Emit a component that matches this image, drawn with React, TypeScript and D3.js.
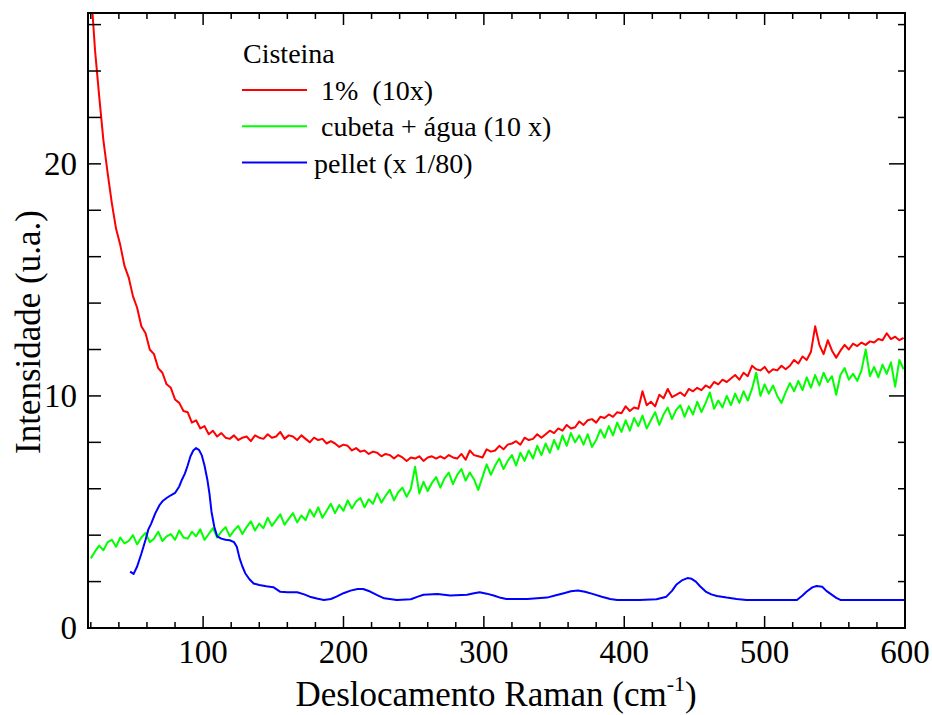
import React, { useEffect, useRef } from "react";
import * as d3 from "d3";

// Raman shift grid for the two noisy spectra (cm-1), sampled every 3
const shift = d3.range(20, 600, 3);

// 1% (10x)
const redVals = [
  27.6, 24.9, 22.9, 21.0, 19.6, 18.3, 17.2, 16.5, 15.6, 15.1,
  14.3, 13.8, 13.0, 12.7, 12.0, 11.8, 11.2, 11.0, 10.5, 10.35,
  9.85, 9.7, 9.35, 9.3, 8.85, 8.95, 8.6, 8.7, 8.35, 8.5,
  8.25, 8.4, 8.2, 8.15, 8.3, 8.1, 8.2, 8.25, 8.05, 8.3,
  8.2, 8.15, 8.35, 8.2, 8.25, 8.45, 8.15, 8.3, 8.25, 8.1,
  8.3, 8.15, 8.0, 8.2, 8.1, 8.15, 7.95, 8.05, 7.95, 7.8,
  7.9, 7.85, 7.65, 7.75, 7.6, 7.65, 7.5, 7.6, 7.55, 7.4,
  7.5, 7.45, 7.3, 7.45, 7.35, 7.2, 7.35, 7.3, 7.4, 7.2,
  7.35, 7.4, 7.3, 7.4, 7.3, 7.45, 7.35, 7.3, 7.5, 7.25,
  7.65, 7.45, 7.4, 7.35, 7.7, 7.6, 7.65, 7.85, 7.7, 7.9,
  7.95, 8.05, 7.9, 8.2, 8.1, 8.15, 8.35, 8.2, 8.35, 8.5,
  8.4, 8.6, 8.5, 8.75, 8.6, 8.65, 8.9, 8.75, 8.95, 9.0,
  8.85, 9.1, 9.05, 9.2, 9.1, 9.3, 9.25, 9.55, 9.35, 9.5,
  9.45, 10.2, 9.6, 9.75, 9.55, 10.05, 9.9, 10.3, 9.95, 10.05,
  10.15, 10.0, 10.3, 10.2, 10.35, 10.25, 10.45, 10.35, 10.6, 10.5,
  10.7, 10.6, 10.75, 10.9, 10.7, 11.0, 10.85, 11.3, 11.15, 11.1,
  11.25, 11.0, 11.15, 11.1, 11.3, 11.15, 11.3, 11.55, 11.4, 11.7,
  11.55, 11.9, 13.0, 12.2, 11.8, 12.4, 11.95, 11.65, 11.95, 12.2,
  12.0, 12.25, 12.15, 12.3, 12.2, 12.35, 12.3, 12.45, 12.4, 12.7,
  12.45, 12.55, 12.4, 12.5,
];

// cubeta + água (10 x)
const greenVals = [
  3.0, 3.3, 3.55, 3.35, 3.7, 3.8, 3.5, 3.9, 3.65, 3.75,
  4.0, 3.6, 3.9, 4.1, 3.7, 3.85, 4.15, 3.75, 3.95, 4.05,
  3.8, 4.2, 3.9, 3.85, 4.15, 3.95, 4.25, 3.8, 4.05, 4.3,
  3.9, 4.15, 4.35, 3.95, 4.2, 4.4, 4.05, 4.35, 4.6, 4.2,
  4.5, 4.3, 4.75, 4.4, 4.65, 4.9, 4.45, 4.7, 4.95, 4.55,
  4.85, 4.65, 5.1, 4.8, 5.2, 4.75, 5.05, 5.35, 4.95, 5.3,
  5.05, 5.5, 5.15, 5.45, 5.6, 5.2, 5.55, 5.35, 5.8, 5.4,
  5.7, 5.95, 5.5, 5.85, 6.05, 5.65, 6.0, 6.95, 5.8, 6.3,
  5.9, 6.25, 6.5, 6.05, 6.45, 6.7, 6.2, 6.6, 6.85, 6.35,
  6.7, 6.4, 5.95, 6.5, 7.05, 6.6, 7.0, 7.3, 6.85, 7.2,
  7.45, 7.0, 7.55, 7.2, 7.65, 7.3, 7.85, 7.45, 7.95, 7.55,
  8.1, 7.7, 8.3, 7.85, 8.4, 8.0, 8.3, 7.9, 8.35, 7.8,
  8.1, 8.55, 8.2, 8.7, 8.3, 8.85, 8.45, 8.95, 8.5, 9.05,
  8.7, 9.15, 8.6, 8.95, 9.3, 8.75, 9.2, 9.5, 9.0, 9.4,
  9.6, 9.1, 9.55, 9.2, 9.75, 9.3, 9.7, 10.15, 9.45, 9.8,
  9.5, 10.0, 9.6, 10.1, 9.7, 10.2, 9.8, 10.3, 11.0, 10.0,
  10.5, 10.1, 10.45, 10.0, 9.7, 10.15, 10.55, 10.2, 10.65, 10.25,
  10.8, 10.35, 10.9, 10.45, 11.0, 10.6, 10.85, 10.05, 10.9, 11.2,
  10.7, 10.95, 10.65, 11.1, 12.0, 10.85, 11.25, 10.8, 11.35, 10.95,
  11.45, 10.4, 11.55, 11.15,
];

// pellet (x 1/80)
const pelletShift = [
  48, 50.5, 53, 56, 59, 61, 63, 66, 69, 71, 74, 77, 80, 83, 85, 87, 89, 91, 93, 95,
  97, 99, 101, 103, 104.5, 106, 108, 110, 113, 116, 119, 122, 124, 126, 128, 130, 133, 136, 140, 145,
  150, 155, 160, 167, 172, 176, 181, 186, 191, 195, 200, 205, 210, 214, 219, 224, 229, 238, 248, 253,
  257, 267, 276, 288, 293, 297, 302, 307, 312, 316, 331, 345, 352, 357, 362, 367, 372, 378, 384, 390,
  395, 411, 423, 430, 434, 437, 441, 445, 448, 451, 454, 458, 462, 466, 473, 480, 487, 523, 527, 530,
  534, 537, 541, 544, 548, 551, 554, 600,
];
const pelletVals = [
  2.43, 2.33, 2.65, 3.2, 3.8, 4.25, 4.5, 4.95, 5.3, 5.46, 5.6, 5.72, 5.82, 6.1, 6.4, 6.65, 7.0, 7.4, 7.65, 7.75,
  7.68, 7.45, 7.0, 6.4, 5.8, 5.0, 4.35, 3.95, 3.85, 3.8, 3.78, 3.7, 3.5, 3.0, 2.65, 2.36, 2.1, 1.92, 1.85, 1.8,
  1.76, 1.56, 1.54, 1.54, 1.45, 1.35, 1.27, 1.21, 1.25, 1.35, 1.5, 1.61, 1.68, 1.68, 1.57, 1.42, 1.28, 1.21, 1.24, 1.35,
  1.43, 1.46, 1.4, 1.43, 1.5, 1.54, 1.48, 1.4, 1.3, 1.25, 1.25, 1.31, 1.42, 1.5, 1.58, 1.62, 1.56, 1.46, 1.35, 1.25,
  1.21, 1.21, 1.24, 1.35, 1.6, 1.86, 2.05, 2.15, 2.12, 2.0, 1.8, 1.57, 1.45, 1.38, 1.31, 1.25, 1.21, 1.21, 1.4, 1.57,
  1.75, 1.81, 1.78, 1.6, 1.43, 1.3, 1.21, 1.21,
];

const xMajor = [100, 200, 300, 400, 500, 600];
const xMinor = d3.range(20, 601, 20);
const yMajor = [0, 10, 20];
const yMinor = d3.range(0, 27, 2);

const legendTitle = "Cisteina";
const legendLabels = ["1%  (10x)", "cubeta + água (10 x)", "pellet (x 1/80)"];
const colors = ["#ff0000", "#00ff00", "#0000ff"];

export default function App() {
  const svgRef = useRef(null);

  useEffect(() => {
    const svg = d3.select(svgRef.current);
    svg.selectAll("*").remove();
    const left = 88, right = 905, top = 13, bottom = 628;
    const x = d3.scaleLinear().domain([18, 600]).range([left, right]);
    const y = d3.scaleLinear().domain([0, 26.5]).range([bottom, top]);
    const font = "'Liberation Serif', 'Times New Roman', serif";

    svg.append("defs").append("clipPath").attr("id", "plotclip")
      .append("rect").attr("x", left).attr("y", top)
      .attr("width", right - left).attr("height", bottom - top);

    const line = d3.line().x((d) => x(d[0])).y((d) => y(d[1]));
    const series = [
      shift.map((s, i) => [s, redVals[i]]),
      shift.map((s, i) => [s, greenVals[i]]),
      pelletShift.map((s, i) => [s, pelletVals[i]]),
    ];
    const plot = svg.append("g").attr("clip-path", "url(#plotclip)");
    series.forEach((pts, i) => {
      plot.append("path").attr("d", line(pts)).attr("fill", "none")
        .attr("stroke", colors[i]).attr("stroke-width", 2)
        .attr("stroke-linejoin", "round");
    });

    // frame + inward ticks
    const ax = svg.append("g").attr("stroke", "#000");
    xMinor.forEach((v) => {
      if (v <= 18) return;
      const major = xMajor.includes(v);
      const len = major ? 12 : 6;
      ax.append("line").attr("x1", x(v)).attr("x2", x(v))
        .attr("y1", bottom).attr("y2", bottom - len).attr("stroke-width", 1.5);
      ax.append("line").attr("x1", x(v)).attr("x2", x(v))
        .attr("y1", top).attr("y2", top + len).attr("stroke-width", 1.5);
    });
    yMinor.forEach((v) => {
      const major = yMajor.includes(v);
      ax.append("line").attr("x1", left).attr("x2", left + 13)
        .attr("y1", y(v)).attr("y2", y(v)).attr("stroke-width", 1.5);
      ax.append("line").attr("x1", right).attr("x2", right - (major ? 16 : 7))
        .attr("y1", y(v)).attr("y2", y(v)).attr("stroke-width", 1.5);
    });
    ax.append("rect").attr("x", left).attr("y", top)
      .attr("width", right - left).attr("height", bottom - top)
      .attr("fill", "none").attr("stroke-width", 2);

    // tick labels
    svg.append("g").selectAll("text").data(xMajor).enter().append("text")
      .attr("x", (d) => x(d)).attr("y", 663).attr("text-anchor", "middle")
      .attr("font-family", font).attr("font-size", 33).text((d) => d);
    svg.append("g").selectAll("text").data(yMajor).enter().append("text")
      .attr("x", 77).attr("y", (d) => y(d) + 11).attr("text-anchor", "end")
      .attr("font-family", font).attr("font-size", 33).text((d) => d);

    // axis titles
    const xt = svg.append("text").attr("x", 496).attr("y", 706)
      .attr("text-anchor", "middle").attr("font-family", font).attr("font-size", 35);
    xt.append("tspan").text("Deslocamento Raman (cm");
    xt.append("tspan").attr("font-size", 22).attr("dy", -15).text("-1");
    xt.append("tspan").attr("dy", 15).text(")");
    svg.append("text").attr("transform", "translate(40,332) rotate(-90)")
      .attr("text-anchor", "middle").attr("font-family", font).attr("font-size", 35)
      .text("Intensidade (u.a.)");

    // legend
    const lg = svg.append("g").attr("font-family", font).attr("font-size", 28);
    lg.append("text").attr("x", 243).attr("y", 63).text(legendTitle);
    const textX = [321, 321, 314];
    legendLabels.forEach((lab, i) => {
      const ly = 90 + i * 36.3;
      lg.append("line").attr("x1", 242).attr("x2", 307).attr("y1", ly).attr("y2", ly)
        .attr("stroke", colors[i]).attr("stroke-width", 2);
      lg.append("text").attr("x", textX[i]).attr("y", ly + 10)
        .style("white-space", "pre").text(lab);
    });
  }, []);

  return (
    <svg ref={svgRef} width={932} height={715}
      style={{ position: "absolute", left: 0, top: 0, background: "#fff" }} />
  );
}
